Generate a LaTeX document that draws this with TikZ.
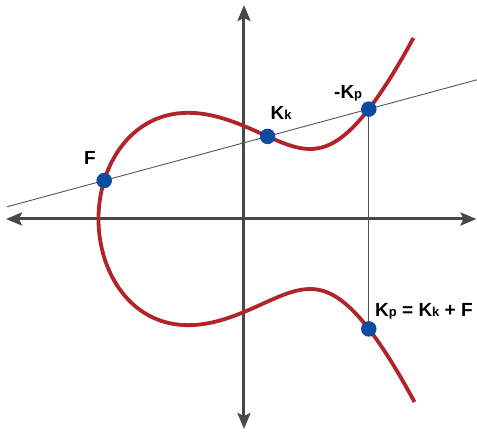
\documentclass[tikz,border=0pt]{standalone}
\usepackage{fontspec}
\setmainfont{Liberation Sans}
\usetikzlibrary{arrows.meta}
\definecolor{curvered}{RGB}{176,36,42}
\definecolor{dotblue}{RGB}{12,76,160}
\definecolor{axisgray}{RGB}{72,72,72}
\definecolor{linegray}{RGB}{85,85,85}
\newcommand\smallsub[1]{{\fontsize{13}{14}\selectfont #1}}
\begin{document}
\begin{tikzpicture}[x=1pt,y=1pt,
  axtip/.tip={Stealth[length=16pt,width=13pt,inset=3pt]},
  axis/.style={axisgray, line width=3pt, axtip-axtip},
  thinline/.style={linegray, line width=0.9pt},
  curve/.style={curvered, line width=3.8pt, line join=round},
  dot/.style={circle, fill=dotblue, minimum size=15.5pt, inner sep=0pt},
  lbl/.style={font=\fontsize{19}{21}\selectfont\bfseries, inner sep=0pt, anchor=base west},
  declare function={ss(\t)=\t*\t-1.455; gg(\s)=11.67*\s*\s*\s+51.114*\s*\s-93.781*\s+59.441;}]
\useasboundingbox (-244,-216) rectangle (233,219);
% axes
\coordinate (xl) at (-238,0);
\coordinate (xr) at (232.5,0);
\coordinate (yb) at (0,-210);
\coordinate (yt) at (0,214);
\draw[axis] (xl) -- (xr);
\draw[axis] (yb) -- (yt);
% secant line
\coordinate (sl) at (-237,12.2);
\coordinate (sr) at (233,139.2);
\draw[thinline] (sl) -- (sr);
% points on the curve
\coordinate (cF) at (-139.8,38.4);
\coordinate (cKk) at (23.6,82.6);
\coordinate (cmKp) at (124.8,109.9);
\coordinate (cKp) at (124.8,-109.9);
\draw[thinline] (cmKp) -- (cKp);
% curve
\draw[curve] plot[domain=-1.7776:1.7776, samples=241, variable=\t]
  ({100*ss(\t)}, {10*\t*sqrt(max(0,gg(ss(\t))))});
% points
\node[dot] (F) at (cF) {};
\node[dot] (Kk) at (cKk) {};
\node[dot] (mKp) at (cmKp) {};
\node[dot] (Kp) at (cKp) {};
% labels
\node[lbl] (lF) at (-160,54) {F};
\node[lbl] (lKk) at (26.5,99) {K\smallsub{k}};
\node[lbl] (lmKp) at (90,120.7) {-K\smallsub{p}};
\node[lbl] (lKp) at (131,-97.7) {K\smallsub{p} = K\smallsub{k} + F};
\end{tikzpicture}
\end{document}
